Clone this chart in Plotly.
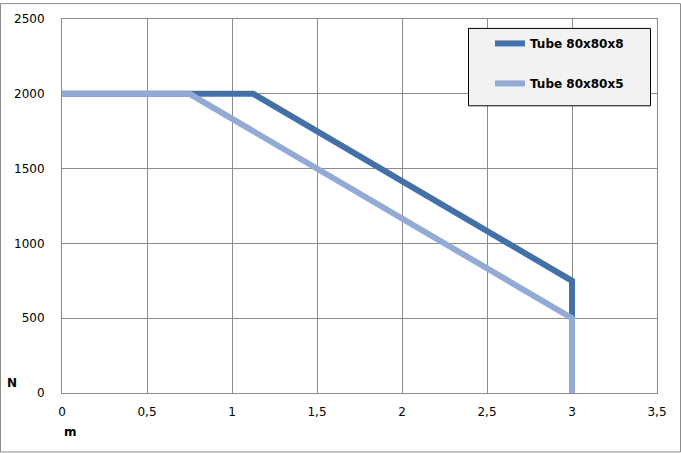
import plotly.graph_objects as go

# Data
x_tube8 = [0, 1.125, 3, 3]
y_tube8 = [2000, 2000, 750, 0]
x_tube5 = [0, 0.75, 3, 3]
y_tube5 = [2000, 2000, 500, 0]
x_ticks = [0, 0.5, 1, 1.5, 2, 2.5, 3, 3.5]
x_ticklabels = ["0", "0,5", "1", "1,5", "2", "2,5", "3", "3,5"]
y_ticks = [0, 500, 1000, 1500, 2000, 2500]

W, H = 681, 453
ml, mr, mt, mb = 62, 24, 16, 60
pw, ph = W - ml - mr, H - mt - mb

def px(xp):
    return (xp - ml) / pw

def py(yp):
    return (H - mb - yp) / ph

fig = go.Figure()
fig.add_trace(go.Scatter(x=x_tube8, y=y_tube8, mode="lines", name="Tube 80x80x8",
                         line=dict(color="#4470A8", width=6), legendgroup="a"))
fig.add_trace(go.Scatter(x=x_tube5, y=y_tube5, mode="lines", name="Tube 80x80x5",
                         line=dict(color="#93AAD4", width=6), legendgroup="b"))

grid = "#8C8C8C"
fig.update_layout(
    width=W, height=H,
    margin=dict(l=ml, r=mr, t=mt, b=mb),
    paper_bgcolor="white", plot_bgcolor="white",
    font=dict(family="DejaVu Sans, Liberation Sans, sans-serif", size=12, color="black"),
    xaxis=dict(range=[0, 3.5], tickvals=x_ticks, ticktext=x_ticklabels,
               showgrid=True, gridcolor=grid, gridwidth=1,
               showline=True, linecolor=grid, linewidth=1, mirror=True,
               zeroline=False, ticks="", tickfont=dict(size=12), ticklabelstandoff=8),
    yaxis=dict(range=[0, 2500], tickvals=y_ticks,
               showgrid=True, gridcolor=grid, gridwidth=1,
               showline=True, linecolor=grid, linewidth=1, mirror=True,
               zeroline=False, ticks="", tickfont=dict(size=12), ticklabelstandoff=14),
    legend=dict(x=px(490), y=py(26), xanchor="left", yanchor="top",
                bgcolor="rgba(0,0,0,0)", borderwidth=0,
                font=dict(size=12, family="DejaVu Sans, sans-serif", weight="bold"),
                tracegroupgap=21, itemwidth=30),
    showlegend=True,
)

# legend box
fig.add_shape(type="rect", xref="paper", yref="paper",
              x0=px(468.5), x1=px(650.5), y0=py(103.5), y1=py(25.5),
              fillcolor="#F2F2F2", line=dict(color="black", width=1), layer="above")

fig.add_annotation(text="<b>N</b>", xref="paper", yref="paper",
                   x=px(12), y=py(383), showarrow=False,
                   xanchor="center", yanchor="middle", font=dict(size=12))
fig.add_annotation(text="<b>m</b>", xref="paper", yref="paper",
                   x=px(70), y=py(432), showarrow=False,
                   xanchor="center", yanchor="middle", font=dict(size=12))

# outer chart border
fig.add_shape(type="rect", xref="paper", yref="paper",
              x0=px(0.5), x1=px(W - 0.5), y0=py(H - 0.5), y1=py(0.5),
              line=dict(color="#8C8C8C", width=1), layer="below")

fig.write_html("out.html", config={"displayModeBar": False},
               post_script="document.body.style.margin='0';")
